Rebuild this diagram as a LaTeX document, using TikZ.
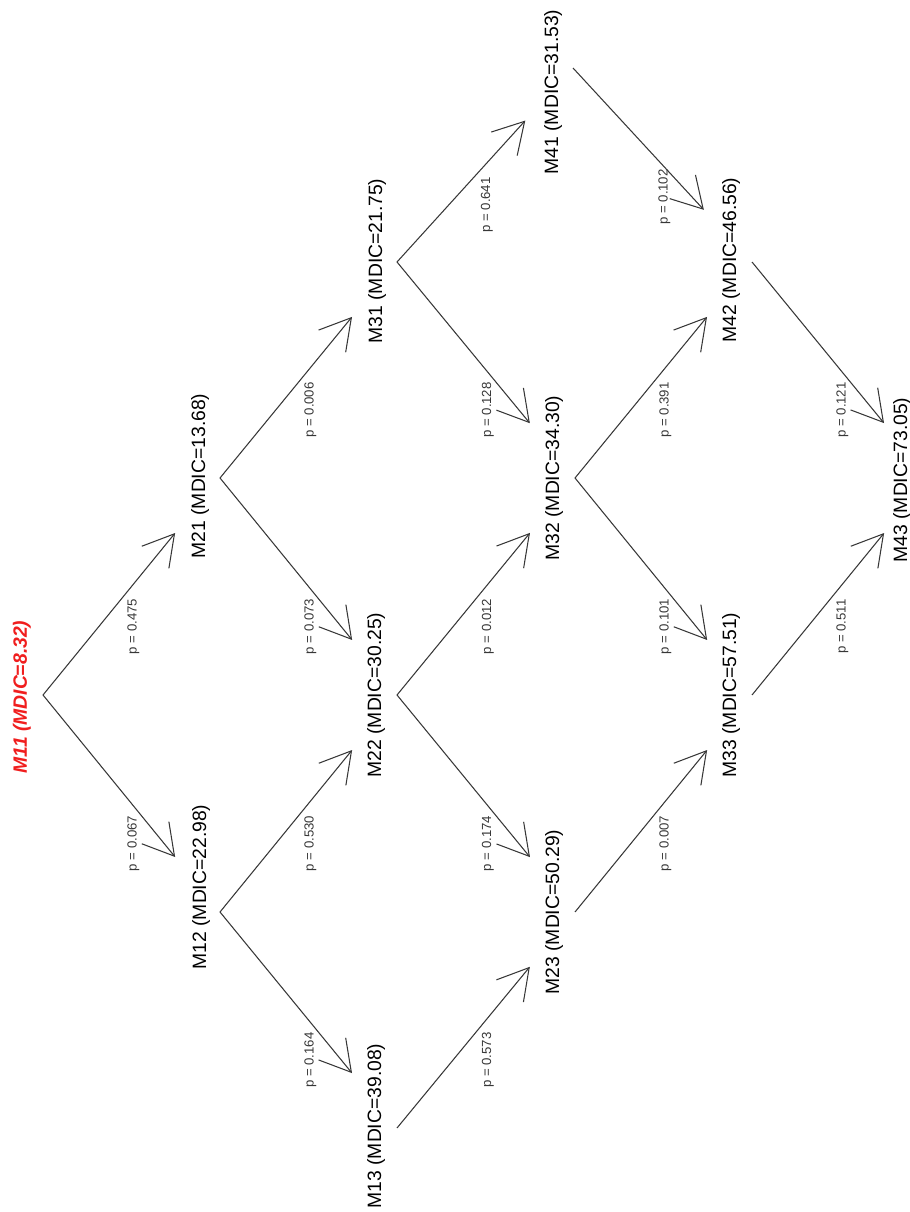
\documentclass[tikz,border=0pt]{standalone}
\usepackage{fontspec}
\setmainfont{Liberation Sans}
\usepackage{tikz}
\usetikzlibrary{arrows.meta, calc}
\definecolor{mydark}{RGB}{55,55,55}
\definecolor{myred}{RGB}{240,30,30}
\tikzset{
  model/.style={rotate=90, inner sep=0pt, text=black,
    font=\fontsize{11}{13}\selectfont},
  best/.style={rotate=90, inner sep=0pt, text=myred,
    font=\fontsize{11}{13}\selectfont\bfseries\itshape},
  pval/.style={rotate=90, inner sep=0pt, text=mydark,
    font=\fontsize{7.5}{9}\selectfont},
  move/.style={-{Straight Barb[angle=60:0.7cm]}, line width=0.6pt,
    color=mydark, shorten >=1.42cm}
}

\begin{document}
\begin{tikzpicture}[x=0.02cm, y=-0.02cm]
  \useasboundingbox (0,0) rectangle (909,1212);

  % where each model sits
  \coordinate (m11) at (43,695);
  \coordinate (m21) at (220,478);
  \coordinate (m12) at (220,912);
  \coordinate (m31) at (397,262);
  \coordinate (m22) at (397,695);
  \coordinate (m13) at (397,1128);
  \coordinate (m41) at (573,68);
  \coordinate (m32) at (575,478);
  \coordinate (m23) at (575,912);
  \coordinate (m42) at (752,262);
  \coordinate (m33) at (752,695);
  \coordinate (m43) at (929,478);

  % model names
  \node[best] (l11) at (22,697) {M11 (MDIC=8.32)};
  \node[model] (l21) at (200,476) {M21 (MDIC=13.68)};
  \node[model] (l12) at (201,887) {M12 (MDIC=22.98)};
  \node[model] (l31) at (377,261) {M31 (MDIC=21.75)};
  \node[model] (l22) at (376,695) {M22 (MDIC=30.25)};
  \node[model] (l13) at (376,1126) {M13 (MDIC=39.08)};
  \node[model] (l41) at (553,92) {M41 (MDIC=31.53)};
  \node[model] (l32) at (554,478) {M32 (MDIC=34.30)};
  \node[model] (l23) at (554,912) {M23 (MDIC=50.29)};
  \node[model] (l42) at (731,260) {M42 (MDIC=46.56)};
  \node[model] (l33) at (731,695) {M33 (MDIC=57.51)};
  \node[model] (l43) at (902,480) {M43 (MDIC=73.05)};

  % moves between models
  \draw[move] (m11) -- (m21);
  \draw[move] (m11) -- (m12);
  \draw[move] (m21) -- (m31);
  \draw[move] (m21) -- (m22);
  \draw[move] (m12) -- (m22);
  \draw[move] (m12) -- (m13);
  \draw[move] (m31) -- (m41);
  \draw[move] (m31) -- (m32);
  \draw[move] (m22) -- (m32);
  \draw[move] (m22) -- (m23);
  \draw[move] (m13) -- (m23);
  \draw[move] (m41) -- (m42);
  \draw[move] (m32) -- (m42);
  \draw[move] (m32) -- (m33);
  \draw[move] (m23) -- (m33);
  \draw[move] (m42) -- (m43);
  \draw[move] (m33) -- (m43);

  % p-values
  \node[pval] (p1121) at ($(m11)!0.5!(m21)+(2,40)$) {p = 0.475};
  \node[pval] (p1112) at ($(m11)!0.5!(m12)+(2,40)$) {p = 0.067};
  \node[pval] (p2131) at ($(m21)!0.5!(m31)+(2,40)$) {p = 0.006};
  \node[pval] (p2122) at ($(m21)!0.5!(m22)+(2,40)$) {p = 0.073};
  \node[pval] (p1222) at ($(m12)!0.5!(m22)+(2,40)$) {p = 0.530};
  \node[pval] (p1213) at ($(m12)!0.5!(m13)+(2,40)$) {p = 0.164};
  \node[pval] (p3141) at ($(m31)!0.5!(m41)+(2,40)$) {p = 0.641};
  \node[pval] (p3132) at ($(m31)!0.5!(m32)+(2,40)$) {p = 0.128};
  \node[pval] (p2232) at ($(m22)!0.5!(m32)+(2,40)$) {p = 0.012};
  \node[pval] (p2223) at ($(m22)!0.5!(m23)+(2,40)$) {p = 0.174};
  \node[pval] (p1323) at ($(m13)!0.5!(m23)+(2,40)$) {p = 0.573};
  \node[pval] (p4142) at ($(m41)!0.5!(m42)+(2,32)$) {p = 0.102};
  \node[pval] (p3242) at ($(m32)!0.5!(m42)+(2,40)$) {p = 0.391};
  \node[pval] (p3233) at ($(m32)!0.5!(m33)+(2,40)$) {p = 0.101};
  \node[pval] (p2333) at ($(m23)!0.5!(m33)+(2,40)$) {p = 0.007};
  \node[pval] (p4243) at ($(m42)!0.5!(m43)+(2,40)$) {p = 0.121};
  \node[pval] (p3343) at ($(m33)!0.5!(m43)+(2,40)$) {p = 0.511};
\end{tikzpicture}
\end{document}
